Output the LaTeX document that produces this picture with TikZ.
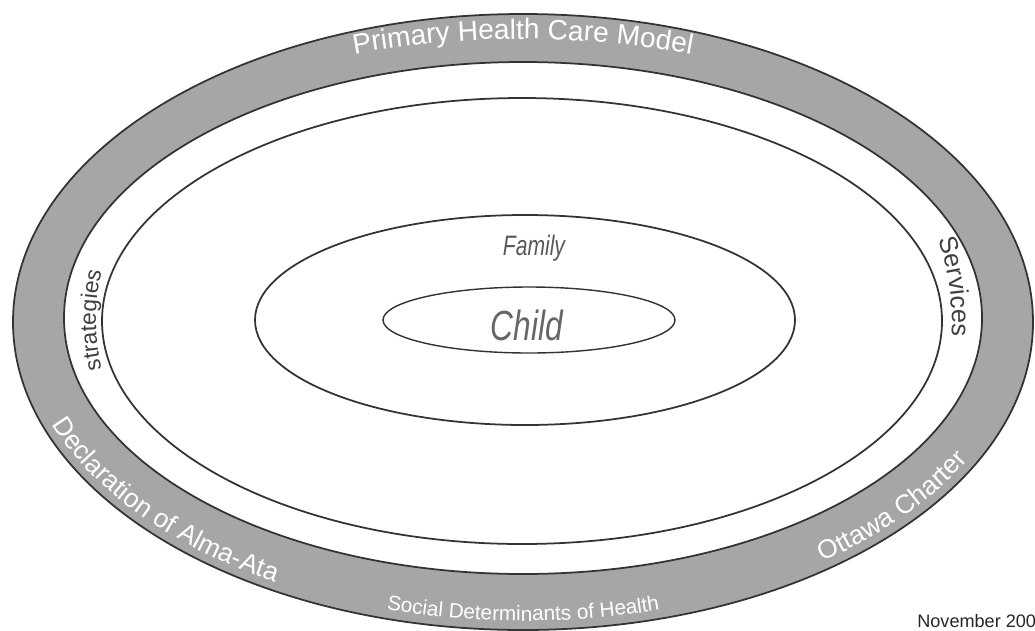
\documentclass[tikz,border=0pt]{standalone}
\usepackage{fontspec}
\setmainfont{Liberation Sans}
\newfontfamily\narrowsans[FakeStretch=0.75]{Liberation Sans}
\usetikzlibrary{decorations.text}

\newcommand{\ringfont}{\fontsize{15}{18}\selectfont}

\begin{document}
\begin{tikzpicture}[x=0.02cm, y=0.02cm,
      every node/.style={font=\small},
      rimline/.style={draw=black!80, line width=1pt},
      ringtext/.style={decorate, decoration={text along path, text align=center, text color=white}},
      bandtext/.style={decorate, decoration={text along path, text align=center, text color=black!75}},
    ]
    \useasboundingbox (0,0) rectangle (1035,-630);
    \clip (0,0) rectangle (1035,-630);

    % --- gray ring ---
    \fill[black!35] (523,-322) ellipse [x radius=510, y radius=308];
    \draw[rimline] (523,-322) ellipse [x radius=510, y radius=308];
    \filldraw[rimline, fill=white] (523,-318) ellipse [x radius=459, y radius=256];

    % --- inner ellipses ---
    \draw[rimline] (522,-321) ellipse [x radius=420, y radius=223];
    \draw[rimline] (525,-320) ellipse [x radius=270, y radius=105];
    \draw[rimline, line width=0.8pt] (529,-320) ellipse [x radius=146, y radius=33];

    % --- texts on the ring ---
    \path[ringtext, decoration={text={|\fontsize{16}{19}\selectfont|Primary Health Care Model}}]
      (523,-320) ++(140:520 and 281) arc [start angle=140, end angle=40, x radius=520, y radius=281];
    \path[ringtext, decoration={text={|\ringfont|Declaration of Alma-Ata}}]
      (523,-321) ++(176:502 and 300) arc [start angle=176, end angle=256, x radius=502, y radius=300];
    \path[ringtext, decoration={text={|\fontsize{11.8}{14}\selectfont|Social Determinants of Health}}]
      (523,-321) ++(230:502 and 300) arc [start angle=230, end angle=310, x radius=502, y radius=300];
    \path[ringtext, decoration={text={|\ringfont|Ottawa Charter}}]
      (523,-321) ++(289:502 and 300) arc [start angle=289, end angle=358, x radius=502, y radius=300];

    % --- texts in the white band ---
    \path[bandtext, decoration={text={|\fontsize{14.5}{17}\selectfont|Services}}]
      (523,-320) ++(31:429 and 320) arc [start angle=31, end angle=-20, x radius=429, y radius=320];
    \path[bandtext, decoration={text={|\fontsize{13}{16}\selectfont|strategies}}]
      (523,-320) ++(206:427 and 300) arc [start angle=206, end angle=154, x radius=427, y radius=300];

    % --- centre ---
    \node[font=\narrowsans\itshape\fontsize{16}{19}\selectfont, text=black!65, anchor=base]
      (family) at (534,-255) {Family};
    \node[font=\narrowsans\itshape\fontsize{24}{28}\selectfont, text=black!60, anchor=base]
      (child) at (527,-340) {Child};

    \node[font=\fontsize{10.3}{12}\selectfont, text=black!85, anchor=base west, inner sep=0pt]
      (date) at (917,-627) {November 200};
  \end{tikzpicture}
\end{document}
